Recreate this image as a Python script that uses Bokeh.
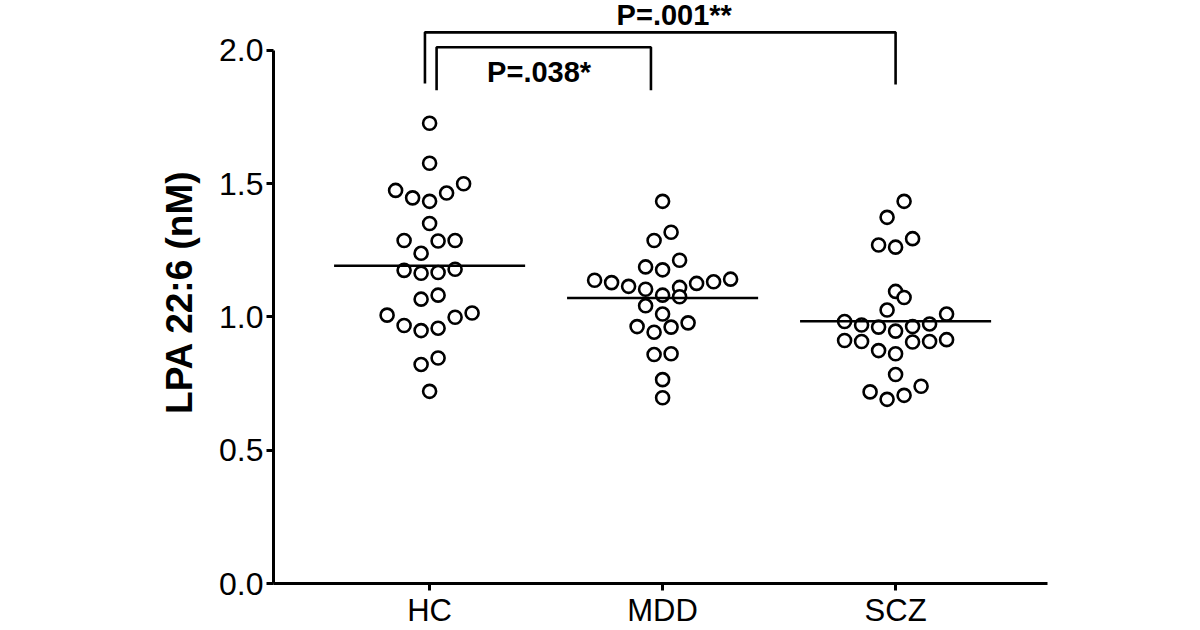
from bokeh.plotting import figure
from bokeh.models import Range1d, FixedTicker, ColumnDataSource
from bokeh.core.properties import value
from bokeh.embed import file_html
from bokeh.resources import INLINE

# ---------------- data ----------------
categories = ["HC", "MDD", "SCZ"]

hc_values = [1.727, 1.577, 1.475, 1.447, 1.434, 1.465, 1.500, 1.351, 1.287, 1.285,
             1.287, 1.239, 1.175, 1.164, 1.167, 1.179, 1.082, 1.067, 1.007, 0.968,
             0.949, 0.958, 0.999, 1.015, 0.846, 0.822, 0.721]
mdd_values = [1.434, 1.318, 1.287, 1.213, 1.188, 1.177, 1.138, 1.142, 1.129, 1.126,
              1.111, 1.104, 1.115, 1.132, 1.082, 1.076, 1.042, 1.011, 0.964, 0.943,
              0.962, 0.978, 0.862, 0.859, 0.765, 0.697]
scz_values = [1.434, 1.374, 1.294, 1.262, 1.270, 1.096, 1.073, 1.026, 0.983, 0.970,
              0.962, 0.947, 0.964, 0.974, 1.011, 0.915, 0.908, 0.906, 0.908, 0.912,
              0.862, 0.874, 0.784, 0.719, 0.691, 0.706, 0.740]
groups = [hc_values, mdd_values, scz_values]

y_ticks = [0.0, 0.5, 1.0, 1.5, 2.0]
comparisons = [(0, 1, "P=.038*"), (0, 2, "P=.001**")]

# ---------------- layout constants ----------------
X_START, X_END = -0.67, 2.652
Y_START, Y_END = 0.0, 2.1876
FRAME_W, FRAME_H = 774, 583
PX_PER_X = FRAME_W / (X_END - X_START)
PX_PER_Y = FRAME_H / (Y_END - Y_START)
SLOT_PX = 17.0
ROW_H = 0.067
MEAN_HALF = 0.41


def swarm_offsets(vals):
    order = sorted(range(len(vals)), key=lambda i: vals[i])
    rows = []
    for i in order:
        if rows and vals[i] - vals[rows[-1][0]] <= ROW_H:
            rows[-1].append(i)
        else:
            rows.append([i])
    offs = [0.0] * len(vals)
    for row in rows:
        n = len(row)
        slots = []
        if n % 2:
            slots.append(0.0)
            k = 1
            while len(slots) < n:
                slots.extend([-k, k])
                k += 1
        else:
            k = 0.5
            while len(slots) < n:
                slots.extend([-k, k])
                k += 1
        for s, i in zip(slots, row):
            offs[i] = s * SLOT_PX / PX_PER_X
    return offs


xs, ys = [], []
for gi, vals in enumerate(groups):
    offs = swarm_offsets(vals)
    xs.extend(gi + o for o in offs)
    ys.extend(vals)

means = [sum(v) / len(v) for v in groups]

TICK_FONT = "Liberation Sans"
BOLD_FONT = "Liberation Sans"

p = figure(frame_width=FRAME_W, frame_height=FRAME_H,
           x_range=Range1d(X_START, X_END), y_range=Range1d(Y_START, Y_END),
           output_backend="svg", toolbar_location=None,
           min_border_left=273, min_border_right=153, min_border_top=0, min_border_bottom=0)
p.outline_line_color = None
p.xgrid.visible = False
p.ygrid.visible = False
p.background_fill_color = "white"
p.border_fill_color = "white"

# y axis
yax = p.yaxis[0]
yax.bounds = (0, 2)
yax.ticker = FixedTicker(ticks=y_ticks)
yax.major_label_overrides = {t: f"{t:.1f}" for t in y_ticks}
yax.axis_line_width = 3
yax.major_tick_line_width = 3
yax.major_tick_out = 7
yax.major_tick_in = 0
yax.minor_tick_line_color = None
yax.major_label_text_font = TICK_FONT
yax.major_label_text_font_size = "32px"
yax.major_label_text_color = "black"
yax.major_label_standoff = 3
yax.axis_label = "LPA 22:6 (nM)"
yax.axis_label_text_font = BOLD_FONT
yax.axis_label_text_font_style = "bold"
yax.axis_label_text_font_size = "37px"
yax.axis_label_text_color = "black"
yax.axis_label_standoff = 16

# x axis
xax = p.xaxis[0]
xax.ticker = FixedTicker(ticks=list(range(len(categories))))
xax.major_label_overrides = {i: c for i, c in enumerate(categories)}
xax.axis_line_width = 3
xax.major_tick_line_width = 3
xax.major_tick_out = 7
xax.major_tick_in = 0
xax.minor_tick_line_color = None
xax.major_label_text_font = TICK_FONT
xax.major_label_text_font_size = "31px"
xax.major_label_text_color = "black"
xax.major_label_standoff = 2

# points
src = ColumnDataSource(dict(x=xs, y=ys))
p.scatter("x", "y", source=src, size=13, line_width=2.6,
          fill_color="white", line_color="black")

# mean lines
p.segment(x0=[i - MEAN_HALF for i in range(3)], x1=[i + MEAN_HALF for i in range(3)],
          y0=means, y1=means, line_width=2.6, line_color="black")

# significance brackets
bracket_specs = [
    # (left x offset, right x offset, top y, left bottom y, right bottom y, text y, text x)
    (0.03, -0.05, 2.012, 1.851, 1.851, 1.918, 0.47),
    (-0.02, 0.0, 2.068, 1.876, 1.872, 2.134, 1.05),
]
for (a, b, label), (lo, ro, top, lb, rb, ty, tx) in zip(comparisons, bracket_specs):
    p.line(x=[a + lo, a + lo, b + ro, b + ro], y=[lb, top, top, rb],
           line_width=2.6, line_color="black")
    p.text(x=[tx], y=[ty], text=[label], text_align="center", text_baseline="middle",
           text_font=value(BOLD_FONT), text_font_style="bold",
           text_font_size="29px", text_color="black")

open("out.html", "w").write(file_html(p, INLINE))
